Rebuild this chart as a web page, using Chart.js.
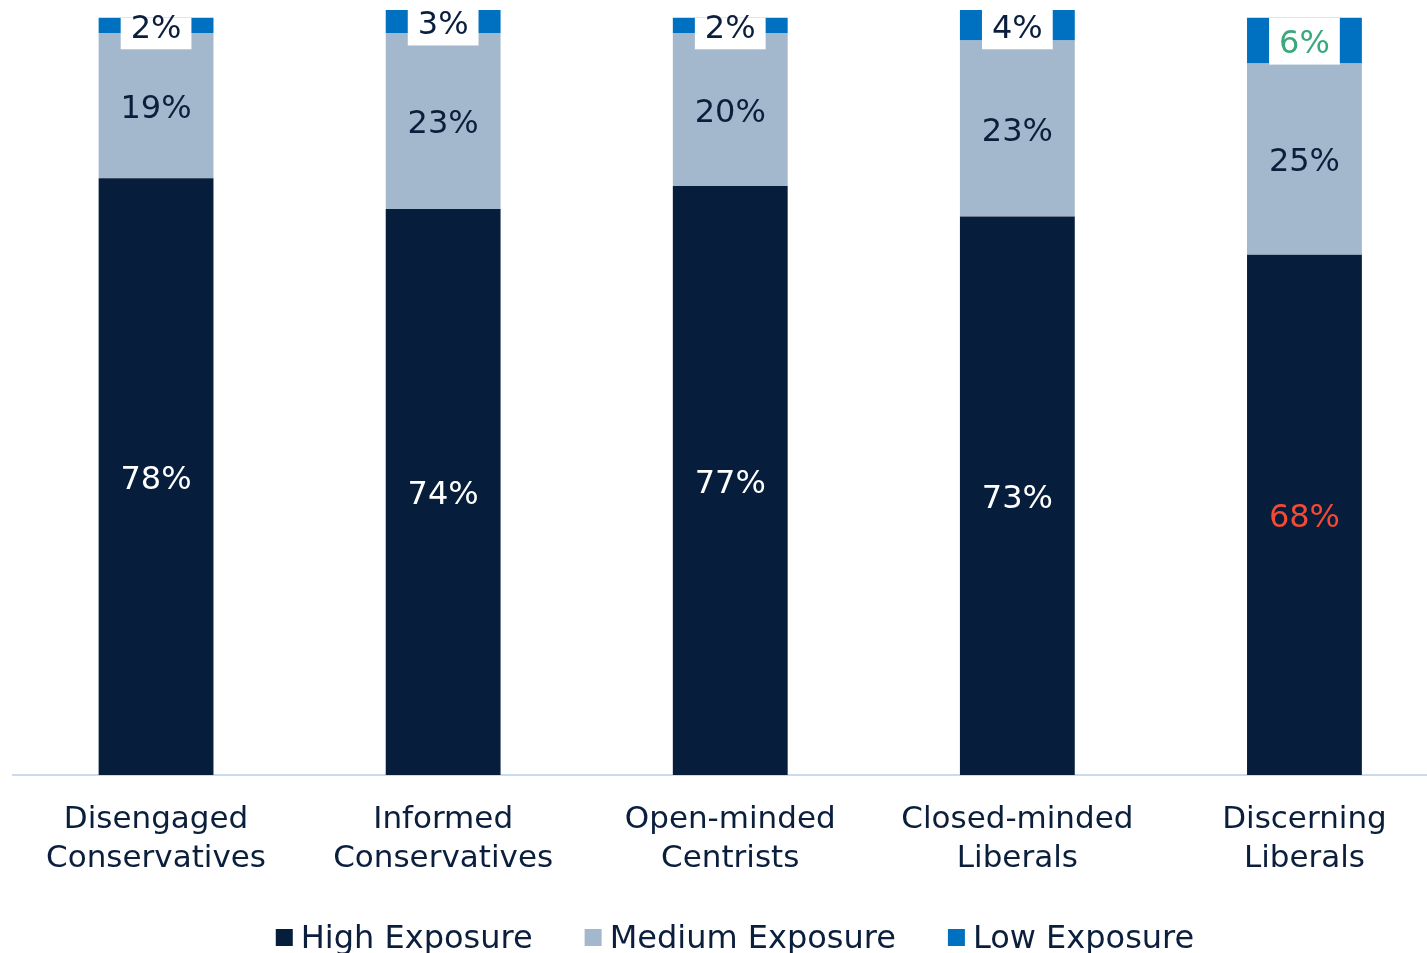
<!DOCTYPE html>
<html>
<head>
<meta charset="utf-8">
<script src="https://cdn.jsdelivr.net/npm/chart.js@4.4.1/dist/chart.umd.min.js"></script>
<style>
  html, body { margin: 0; padding: 0; background: #ffffff; overflow: hidden; }
  #wrap { width: 1448px; height: 953px; }
</style>
</head>
<body>
<div id="wrap"><canvas id="chart" width="1448" height="953"></canvas></div>
<script>
// Segments
const categories = [
  ['Disengaged', 'Conservatives'],
  ['Informed', 'Conservatives'],
  ['Open-minded', 'Centrists'],
  ['Closed-minded', 'Liberals'],
  ['Discerning', 'Liberals']
];
const seriesNames = ['High Exposure', 'Medium Exposure', 'Low Exposure'];
const highExposure = [78, 74, 77, 73, 68];
const mediumExposure = [19, 23, 20, 23, 25];
const lowExposure = [2, 3, 2, 4, 6];

// Styling
const NAVY = '#061e3c';
const MEDIUM = '#a3b8cc';
const BLUE = '#0070c0';
const TEXT = '#0b1f3d';
const FONT = '"DejaVu Sans", Verdana, sans-serif';
// value-label colours for each series (last bar highlighted)
const labelColors = [
  ['#ffffff', '#ffffff', '#ffffff', '#ffffff', '#f24a35'],
  [TEXT, TEXT, TEXT, TEXT, TEXT],
  [TEXT, TEXT, TEXT, TEXT, '#3aa87c']
];

const valueLabels = {
  id: 'valueLabels',
  afterDatasetsDraw(chart) {
    const ctx = chart.ctx;
    ctx.save();
    ctx.font = '32px ' + FONT;
    ctx.textAlign = 'center';
    ctx.textBaseline = 'middle';
    chart.data.datasets.forEach((ds, di) => {
      const meta = chart.getDatasetMeta(di);
      meta.data.forEach((el, i) => {
        const top = Math.min(el.y, el.base);
        const bottom = Math.max(el.y, el.base);
        const cy = (top + bottom) / 2;
        const txt = ds.data[i] + '%';
        if (di === 2) {
          // white plate behind the small top-segment labels
          const w = ctx.measureText(txt).width + 20;
          const boxTop = Math.max(top, cy - 24);
          const boxBottom = cy + 24;
          ctx.fillStyle = '#ffffff';
          ctx.fillRect(el.x - w / 2, boxTop, w, boxBottom - boxTop);
        }
        ctx.fillStyle = labelColors[di][i];
        ctx.fillText(txt, el.x, cy + 4);
      });
    });
    ctx.restore();
  }
};

const bottomLegend = {
  id: 'bottomLegend',
  afterDraw(chart) {
    const ctx = chart.ctx;
    ctx.save();
    ctx.font = '32px ' + FONT;
    ctx.textBaseline = 'alphabetic';
    ctx.textAlign = 'left';
    const box = 17, gap = 8, spacing = 52;
    const items = chart.data.datasets.map(ds => ({
      label: ds.label, color: ds.backgroundColor, w: box + gap + ctx.measureText(ds.label).width
    }));
    const total = items.reduce((s, it) => s + it.w, 0) + spacing * (items.length - 1);
    let x = 735 - total / 2;
    items.forEach(it => {
      ctx.fillStyle = it.color;
      ctx.fillRect(x, 929, box, box);
      ctx.fillStyle = TEXT;
      ctx.fillText(it.label, x + box + gap, 948);
      x += it.w + spacing;
    });
    ctx.restore();
  }
};

new Chart(document.getElementById('chart'), {
  type: 'bar',
  data: {
    labels: categories,
    datasets: [
      { label: seriesNames[0], data: highExposure, backgroundColor: NAVY },
      { label: seriesNames[1], data: mediumExposure, backgroundColor: MEDIUM },
      { label: seriesNames[2], data: lowExposure, backgroundColor: BLUE }
    ]
  },
  options: {
    responsive: false,
    animation: false,
    layout: { padding: { left: 12.5, top: 10, right: 0, bottom: 0 } },
    datasets: { bar: { barPercentage: 0.4, categoryPercentage: 1.0, borderWidth: 0 } },
    plugins: { legend: { display: false }, tooltip: { enabled: false } },
    scales: {
      x: {
        stacked: true,
        grid: { display: false, drawTicks: false },
        border: { display: true, color: '#c8dcee', width: 2 },
        ticks: {
          color: TEXT,
          font: { family: FONT, size: 31, lineHeight: 1.25 },
          padding: 26,
          maxRotation: 0,
          autoSkip: false
        },
        afterFit(scale) { scale.height = 178; }
      },
      y: {
        stacked: true,
        display: false,
        min: 0,
        max: 100
      }
    }
  },
  plugins: [valueLabels, bottomLegend]
});
</script>
</body>
</html>
